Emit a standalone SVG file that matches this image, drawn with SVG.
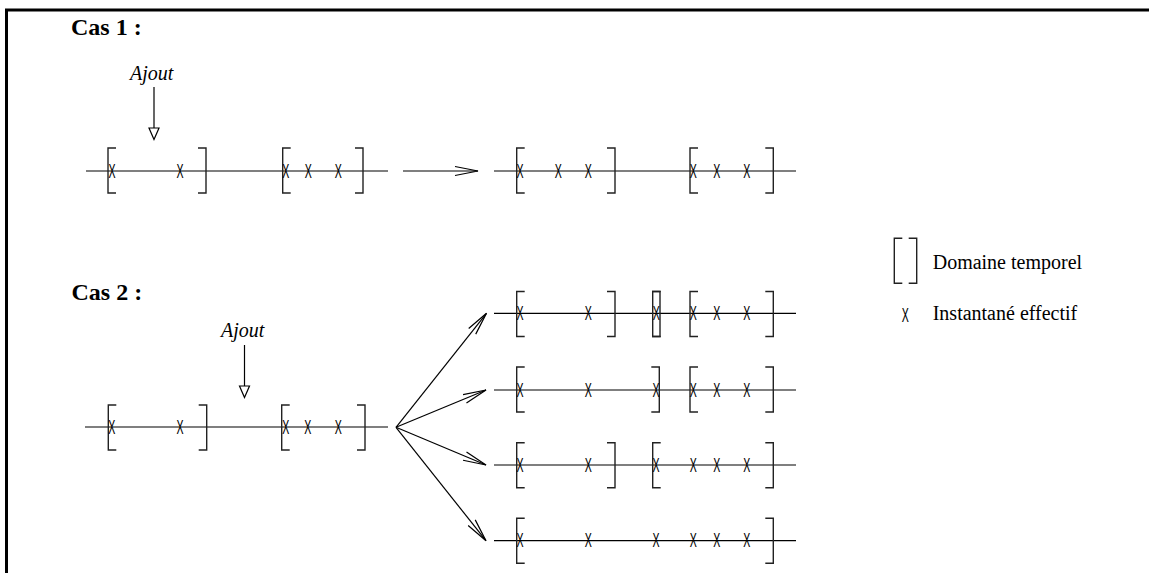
<svg xmlns="http://www.w3.org/2000/svg" xmlns:xlink="http://www.w3.org/1999/xlink" width="1149" height="573" viewBox="0 0 1149 573">
<style>
.frame{stroke:#000;stroke-width:3;fill:none}
.tl{stroke:#000;stroke-width:1.2;fill:none}
.br{stroke:#222;stroke-width:1.4;fill:none}
.x{font-family:"Liberation Sans",Arial,sans-serif;font-size:20px;fill:#000;text-anchor:middle}
.title{font-family:"Liberation Serif","Times New Roman",serif;font-size:24px;font-weight:bold;fill:#000}
.ajout{font-family:"Liberation Serif","Times New Roman",serif;font-size:20px;font-style:italic;fill:#000}
.leg{font-family:"Liberation Serif","Times New Roman",serif;font-size:20px;fill:#000}
.arr{stroke:#000;stroke-width:1.2;fill:none}
.tri{stroke:#000;stroke-width:1.2;fill:#fff}
</style>
<defs>
<path id="lb" d="M8,-22.5 H0 V22.5 H8"/>
<path id="rb" d="M-8,-22.5 H0 V22.5 H-8"/>
<marker id="open" markerUnits="userSpaceOnUse" viewBox="-26 -7 28 14" refX="0" refY="0" markerWidth="28" markerHeight="14" orient="auto">
<path d="M-23,-4.5 L0,0 L-23,4.5" fill="none" stroke="#000" stroke-width="1.2"/>
</marker>
</defs>
<rect width="1149" height="573" fill="#fff"/>
<path class="frame" d="M6.5,573 V10 H1149"/>

<g id="cas1-label"><text class="title" x="71" y="35">Cas 1 :</text></g>
<g id="cas1-ajout">
<text class="ajout" x="130" y="80">Ajout</text>
<line class="arr" x1="154" y1="87" x2="154" y2="128"/>
<polygon class="tri" points="149,128 159,128 154,139.5"/>
</g>
<g id="cas1-before">
<line class="tl" x1="86" y1="171" x2="388" y2="171"/>
<use class="br" href="#lb" x="108" y="170.5"/><use class="br" href="#rb" x="206" y="170.5"/>
<use class="br" href="#lb" x="282.7" y="170.5"/><use class="br" href="#rb" x="363" y="170.5"/>
<text class="x" transform="translate(112,177.5) scale(0.53,1)">X</text>
<text class="x" transform="translate(180,177.5) scale(0.53,1)">X</text>
<text class="x" transform="translate(285.7,177.5) scale(0.53,1)">X</text>
<text class="x" transform="translate(308.3,177.5) scale(0.53,1)">X</text>
<text class="x" transform="translate(338.3,177.5) scale(0.53,1)">X</text>
</g>
<g id="cas1-after">
<line class="tl" x1="494" y1="171" x2="796" y2="171"/>
<use class="br" href="#lb" x="516.7" y="170.5"/><use class="br" href="#rb" x="615" y="170.5"/>
<use class="br" href="#lb" x="690" y="170.5"/><use class="br" href="#rb" x="773.3" y="170.5"/>
<text class="x" transform="translate(520,177.5) scale(0.53,1)">X</text>
<text class="x" transform="translate(558.3,177.5) scale(0.53,1)">X</text>
<text class="x" transform="translate(588.3,177.5) scale(0.53,1)">X</text>
<text class="x" transform="translate(693.3,177.5) scale(0.53,1)">X</text>
<text class="x" transform="translate(716.7,177.5) scale(0.53,1)">X</text>
<text class="x" transform="translate(746.7,177.5) scale(0.53,1)">X</text>
</g>

<g id="cas2-label"><text class="title" x="71.5" y="300">Cas 2 :</text></g>
<g id="cas2-ajout">
<text class="ajout" x="221" y="337">Ajout</text>
<line class="arr" x1="244.5" y1="345" x2="244.5" y2="386"/>
<polygon class="tri" points="239.5,386 249.5,386 244.5,397.5"/>
</g>
<g id="cas2-before">
<line class="tl" x1="85" y1="427" x2="388" y2="427"/>
<use class="br" href="#lb" x="108.3" y="427.5"/><use class="br" href="#rb" x="206.7" y="427.5"/>
<use class="br" href="#lb" x="281.7" y="427.5"/><use class="br" href="#rb" x="365" y="427.5"/>
<text class="x" transform="translate(111.7,433.5) scale(0.53,1)">X</text>
<text class="x" transform="translate(180,433.5) scale(0.53,1)">X</text>
<text class="x" transform="translate(285.7,433.5) scale(0.53,1)">X</text>
<text class="x" transform="translate(307.7,433.5) scale(0.53,1)">X</text>
<text class="x" transform="translate(338.3,433.5) scale(0.53,1)">X</text>
</g>
<g id="cas2-row1">
<line class="tl" x1="494" y1="313.3" x2="796" y2="313.3"/>
<use class="br" href="#lb" x="516.7" y="314"/><use class="br" href="#rb" x="615" y="314"/>
<use class="br" href="#lb" x="652.7" y="314"/><use class="br" href="#rb" x="660" y="314"/>
<use class="br" href="#lb" x="690" y="314"/><use class="br" href="#rb" x="773.3" y="314"/>
<text class="x" transform="translate(520,319.8) scale(0.53,1)">X</text>
<text class="x" transform="translate(588.3,319.8) scale(0.53,1)">X</text>
<text class="x" transform="translate(656.3,319.8) scale(0.53,1)">X</text>
<text class="x" transform="translate(693.3,319.8) scale(0.53,1)">X</text>
<text class="x" transform="translate(716.7,319.8) scale(0.53,1)">X</text>
<text class="x" transform="translate(746.7,319.8) scale(0.53,1)">X</text>
</g>
<g id="cas2-row2">
<line class="tl" x1="494" y1="390" x2="796" y2="390"/>
<use class="br" href="#lb" x="516.7" y="389.5"/><use class="br" href="#rb" x="659.3" y="389.5"/>
<use class="br" href="#lb" x="690" y="389.5"/><use class="br" href="#rb" x="773.3" y="389.5"/>
<text class="x" transform="translate(520,396.5) scale(0.53,1)">X</text>
<text class="x" transform="translate(588.3,396.5) scale(0.53,1)">X</text>
<text class="x" transform="translate(656,396.5) scale(0.53,1)">X</text>
<text class="x" transform="translate(693.3,396.5) scale(0.53,1)">X</text>
<text class="x" transform="translate(716.7,396.5) scale(0.53,1)">X</text>
<text class="x" transform="translate(746.7,396.5) scale(0.53,1)">X</text>
</g>
<g id="cas2-row3">
<line class="tl" x1="494" y1="465" x2="796" y2="465"/>
<use class="br" href="#lb" x="516.7" y="465.3"/><use class="br" href="#rb" x="615" y="465.3"/>
<use class="br" href="#lb" x="652.7" y="465.3"/><use class="br" href="#rb" x="773.3" y="465.3"/>
<text class="x" transform="translate(520,471.5) scale(0.53,1)">X</text>
<text class="x" transform="translate(588.3,471.5) scale(0.53,1)">X</text>
<text class="x" transform="translate(656,471.5) scale(0.53,1)">X</text>
<text class="x" transform="translate(693.3,471.5) scale(0.53,1)">X</text>
<text class="x" transform="translate(716.7,471.5) scale(0.53,1)">X</text>
<text class="x" transform="translate(746.7,471.5) scale(0.53,1)">X</text>
</g>
<g id="cas2-row4">
<line class="tl" x1="494" y1="540.7" x2="796" y2="540.7"/>
<use class="br" href="#lb" x="516.7" y="540.8"/><use class="br" href="#rb" x="773.3" y="540.8"/>
<text class="x" transform="translate(520,547.2) scale(0.53,1)">X</text>
<text class="x" transform="translate(588.3,547.2) scale(0.53,1)">X</text>
<text class="x" transform="translate(656,547.2) scale(0.53,1)">X</text>
<text class="x" transform="translate(693.3,547.2) scale(0.53,1)">X</text>
<text class="x" transform="translate(716.7,547.2) scale(0.53,1)">X</text>
<text class="x" transform="translate(746.7,547.2) scale(0.53,1)">X</text>
</g>

<g id="connectors">
<line class="arr" x1="403" y1="171" x2="478" y2="171" marker-end="url(#open)"/>
<line class="arr" x1="396" y1="427.3" x2="486.5" y2="313.3" marker-end="url(#open)"/>
<line class="arr" x1="396" y1="427.3" x2="486" y2="390" marker-end="url(#open)"/>
<line class="arr" x1="396" y1="427.3" x2="486" y2="465" marker-end="url(#open)"/>
<line class="arr" x1="396" y1="427.3" x2="486" y2="540.7" marker-end="url(#open)"/>
</g>

<g id="legend">
<use class="br" href="#lb" x="894.3" y="260.8"/><use class="br" href="#rb" x="916.7" y="260.8"/>
<text class="leg" x="932.7" y="269.3">Domaine temporel</text>
<text class="x" transform="translate(905.3,322) scale(0.53,1)">X</text>
<text class="leg" x="932.7" y="320">Instantané effectif</text>
</g>
</svg>
